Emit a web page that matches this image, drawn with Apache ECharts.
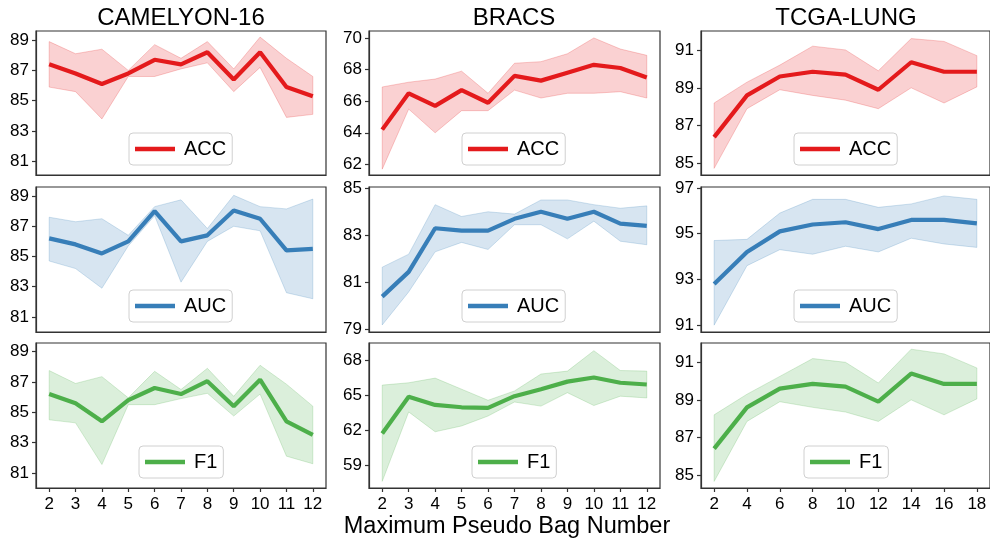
<!DOCTYPE html>
<html><head><meta charset="utf-8">
<script src="https://cdn.jsdelivr.net/npm/echarts@6/dist/echarts.min.js"></script>
<style>html,body{margin:0;padding:0;background:#fff}#c{width:990px;height:540px}</style>
</head><body><div id="c"></div>
<script>
// ---------- data ----------
const datasetNames = ['CAMELYON-16', 'BRACS', 'TCGA-LUNG'];
const metricNames = ['ACC', 'AUC', 'F1'];
const xAxisTitle = 'Maximum Pseudo Bag Number';

const xCamelyon = [2, 3, 4, 5, 6, 7, 8, 9, 10, 11, 12];
const xBracs = [2, 3, 4, 5, 6, 7, 8, 9, 10, 11, 12];
const xTcga = [2, 4, 6, 8, 10, 12, 14, 16, 18];

const xTicksCamelyon = [2, 3, 4, 5, 6, 7, 8, 9, 10, 11, 12];
const xTicksBracs = [2, 3, 4, 5, 6, 7, 8, 9, 10, 11, 12];
const xTicksTcga = [2, 4, 6, 8, 10, 12, 14, 16, 18];

const yTicksCamAcc = [81, 83, 85, 87, 89];
const yTicksCamAuc = [81, 83, 85, 87, 89];
const yTicksCamF1 = [81, 83, 85, 87, 89];
const yTicksBracsAcc = [62, 64, 66, 68, 70];
const yTicksBracsAuc = [79, 81, 83, 85];
const yTicksBracsF1 = [59, 62, 65, 68];
const yTicksTcgaAcc = [85, 87, 89, 91];
const yTicksTcgaAuc = [91, 93, 95, 97];
const yTicksTcgaF1 = [85, 87, 89, 91];

const camAccMean  = [87.4, 86.8, 86.1, 86.8, 87.7, 87.4, 88.2, 86.4, 88.2, 85.9, 85.3];
const camAccUpper = [88.9, 88.1, 88.4, 87.0, 88.7, 87.8, 88.9, 87.1, 89.2, 87.8, 86.6];
const camAccLower = [85.9, 85.6, 83.8, 86.6, 86.6, 87.1, 87.5, 85.6, 87.2, 83.9, 84.1];

const camAucMean  = [86.2, 85.8, 85.2, 86.0, 88.0, 86.0, 86.4, 88.05, 87.5, 85.4, 85.5];
const camAucUpper = [87.6, 87.3, 87.5, 86.4, 88.3, 88.75, 86.85, 89.05, 88.3, 88.15, 88.8];
const camAucLower = [84.7, 84.2, 82.9, 85.7, 87.7, 83.3, 86.0, 87.0, 86.7, 82.6, 82.2];

const camF1Mean  = [86.2, 85.6, 84.4, 85.8, 86.6, 86.2, 87.05, 85.4, 87.15, 84.4, 83.5];
const camF1Upper = [87.75, 86.9, 87.35, 85.95, 87.7, 86.5, 87.9, 86.05, 88.1, 86.85, 85.4];
const camF1Lower = [84.5, 84.3, 81.55, 85.5, 85.5, 85.9, 86.25, 84.75, 86.2, 82.1, 81.6];

const bracsAccMean  = [64.2, 66.5, 65.7, 66.7, 65.9, 67.6, 67.3, 67.8, 68.3, 68.1, 67.5];
const bracsAccUpper = [66.9, 67.2, 67.4, 67.9, 66.5, 68.4, 68.5, 69.0, 70.0, 69.3, 68.9];
const bracsAccLower = [61.7, 65.5, 64.0, 65.4, 65.4, 66.7, 66.2, 66.5, 66.5, 66.6, 66.2];

const bracsAucMean  = [80.4, 81.45, 83.3, 83.2, 83.2, 83.7, 84.0, 83.7, 84.0, 83.5, 83.4];
const bracsAucUpper = [81.65, 82.2, 84.3, 83.8, 84.0, 83.9, 84.5, 84.5, 84.3, 84.15, 84.25];
const bracsAucLower = [79.2, 80.6, 82.3, 82.7, 82.4, 83.45, 83.45, 82.85, 83.6, 82.75, 82.6];

const bracsF1Mean  = [61.7, 64.85, 64.15, 63.95, 63.9, 64.9, 65.5, 66.15, 66.5, 66.05, 65.9];
const bracsF1Upper = [65.85, 66.05, 66.45, 65.5, 64.55, 65.35, 66.8, 67.05, 68.8, 67.1, 67.05];
const bracsF1Lower = [57.6, 63.55, 61.85, 62.35, 63.2, 64.4, 64.05, 65.2, 64.1, 64.9, 64.75];

const tcgaAccMean  = [86.4, 88.6, 89.6, 89.85, 89.7, 88.9, 90.35, 89.85, 89.85];
const tcgaAccUpper = [88.2, 89.3, 90.2, 91.2, 91.0, 89.9, 91.6, 91.45, 90.7];
const tcgaAccLower = [84.75, 87.9, 88.9, 88.6, 88.35, 87.9, 89.0, 88.2, 89.05];

const tcgaAucMean  = [92.8, 94.2, 95.1, 95.4, 95.5, 95.2, 95.6, 95.6, 95.45];
const tcgaAucUpper = [94.7, 94.75, 95.9, 96.5, 96.5, 96.15, 96.3, 96.65, 96.5];
const tcgaAucLower = [91.0, 93.6, 94.3, 94.1, 94.45, 94.2, 94.8, 94.55, 94.4];

const tcgaF1Mean  = [86.4, 88.6, 89.6, 89.85, 89.7, 88.9, 90.4, 89.85, 89.85];
const tcgaF1Upper = [88.2, 89.3, 90.25, 91.2, 91.0, 89.9, 91.7, 91.45, 90.7];
const tcgaF1Lower = [84.65, 87.85, 88.9, 88.6, 88.35, 87.85, 89.0, 88.2, 89.05];

// ---------- layout / style ----------
const FONT = '"Liberation Sans", Arial, Helvetica, sans-serif';
const metricColors = { ACC: '#e41a1c', AUC: '#377eb8', F1: '#4daf4a' };
const cols = [{ left: 36, width: 290 }, { left: 369, width: 291 }, { left: 701, width: 292 }];
const rows = [{ top: 31, height: 144 }, { top: 187, height: 145 }, { top: 343, height: 145 }];

const panels = [
  { r: 0, c: 0, m: 'ACC', x: xCamelyon, xt: xTicksCamelyon, xr: [1.5, 12.5], yr: [80.1, 89.6], yt: yTicksCamAcc, mean: camAccMean, up: camAccUpper, lo: camAccLower },
  { r: 0, c: 1, m: 'ACC', x: xBracs, xt: xTicksBracs, xr: [1.5, 12.5], yr: [61.33, 70.44], yt: yTicksBracsAcc, mean: bracsAccMean, up: bracsAccUpper, lo: bracsAccLower },
  { r: 0, c: 2, m: 'ACC', x: xTcga, xt: xTicksTcga, xr: [1.2, 18.8], yr: [84.4, 92.0], yt: yTicksTcgaAcc, mean: tcgaAccMean, up: tcgaAccUpper, lo: tcgaAccLower },
  { r: 1, c: 0, m: 'AUC', x: xCamelyon, xt: xTicksCamelyon, xr: [1.5, 12.5], yr: [80.0, 89.6], yt: yTicksCamAuc, mean: camAucMean, up: camAucUpper, lo: camAucLower },
  { r: 1, c: 1, m: 'AUC', x: xBracs, xt: xTicksBracs, xr: [1.5, 12.5], yr: [78.9, 85.05], yt: yTicksBracsAuc, mean: bracsAucMean, up: bracsAucUpper, lo: bracsAucLower },
  { r: 1, c: 2, m: 'AUC', x: xTcga, xt: xTicksTcga, xr: [1.2, 18.8], yr: [90.7, 97.04], yt: yTicksTcgaAuc, mean: tcgaAucMean, up: tcgaAucUpper, lo: tcgaAucLower },
  { r: 2, c: 0, m: 'F1', x: xCamelyon, xt: xTicksCamelyon, xr: [1.5, 12.5], yr: [80.0, 89.57], yt: yTicksCamF1, mean: camF1Mean, up: camF1Upper, lo: camF1Lower },
  { r: 2, c: 1, m: 'F1', x: xBracs, xt: xTicksBracs, xr: [1.5, 12.5], yr: [57.03, 69.46], yt: yTicksBracsF1, mean: bracsF1Mean, up: bracsF1Upper, lo: bracsF1Lower },
  { r: 2, c: 2, m: 'F1', x: xTcga, xt: xTicksTcga, xr: [1.2, 18.8], yr: [84.3, 92.03], yt: yTicksTcgaF1, mean: tcgaF1Mean, up: tcgaF1Upper, lo: tcgaF1Lower }
];

const measureCtx = document.createElement('canvas').getContext('2d');
function textWidth(t, size) { measureCtx.font = size + 'px ' + FONT; return measureCtx.measureText(t).width; }

function rgba(hex, a) {
  const n = parseInt(hex.slice(1), 16);
  return 'rgba(' + ((n >> 16) & 255) + ',' + ((n >> 8) & 255) + ',' + (n & 255) + ',' + a + ')';
}

const grid = [], xAxis = [], yAxis = [], series = [], legend = [], graphic = [];
const SPINE = '#333333';

function bandRenderer(p, color) {
  return function (params, api) {
    if (params.dataIndex !== 0) return null;
    const upPts = p.x.map((v, k) => api.coord([v, p.up[k]]));
    const loPts = p.x.map((v, k) => api.coord([v, p.lo[k]]));
    const poly = upPts.concat(loPts.slice().reverse());
    return {
      type: 'polygon', shape: { points: poly },
      style: { fill: rgba(color, 0.2), stroke: rgba(color, 0.22), lineWidth: 1 }
    };
  };
}

panels.forEach((p, i) => {
  const col = cols[p.c], row = rows[p.r];
  const color = metricColors[p.m];
  grid.push({ left: col.left, top: row.top, width: col.width, height: row.height, show: true, borderColor: SPINE, borderWidth: 1.2, backgroundColor: 'transparent' });
  const bottomRow = p.r === 2;
  xAxis.push({
    type: 'value', gridIndex: i, min: p.xr[0], max: p.xr[1],
    axisLine: { show: true, lineStyle: { color: SPINE, width: 1.2 } },
    axisTick: { show: bottomRow, length: 4, inside: false, lineStyle: { color: SPINE, width: 1.2 }, customValues: p.xt },
    axisLabel: { show: bottomRow, fontSize: 17, fontFamily: FONT, color: '#000', margin: 8, customValues: p.xt },
    splitLine: { show: false }
  });
  yAxis.push({
    type: 'value', gridIndex: i, min: p.yr[0], max: p.yr[1],
    axisLine: { show: true, lineStyle: { color: SPINE, width: 1.2 } },
    axisTick: { show: true, length: 4, lineStyle: { color: SPINE, width: 1.2 }, customValues: p.yt },
    axisLabel: { show: true, fontSize: 17, fontFamily: FONT, color: '#000', margin: 7, customValues: p.yt },
    splitLine: { show: false }
  });
  series.push({
    type: 'custom', name: '_band' + i, xAxisIndex: i, yAxisIndex: i, silent: true, z: 1,
    data: p.x.map((v, k) => [v, p.lo[k], p.up[k]]),
    encode: { x: 0, y: [1, 2] },
    renderItem: bandRenderer(p, color),
    clip: true
  });
  series.push({
    type: 'line', name: p.m, xAxisIndex: i, yAxisIndex: i,
    data: p.x.map((v, k) => [v, p.mean[k]]), symbol: 'none',
    lineStyle: { color: color, width: 4.2 }, itemStyle: { color: color }, z: 3
  });
  const tw = textWidth(p.m, 20);
  const boxW = 6 + 40 + 9 + tw + 6;
  const cx = col.left + Math.min(col.width, 290) / 2;
  legend.push({
    data: [p.m], left: Math.round(cx - boxW / 2), top: row.top + row.height - 10 - 32,
    orient: 'horizontal', icon: 'rect', itemWidth: 40, itemHeight: 4.5, itemGap: 0,
    padding: [5, 6, 5, 6], backgroundColor: '#fff', borderColor: '#d0d0d0', borderWidth: 1, borderRadius: 4,
    textStyle: { fontSize: 20, fontFamily: FONT, color: '#000', lineHeight: 22, padding: [0, 0, 0, 4] },
    selectedMode: false, z: 10
  });
});

datasetNames.forEach((name, c) => {
  graphic.push({
    type: 'text', x: cols[c].left + Math.min(cols[c].width, 290) / 2, y: 18, silent: true,
    style: { text: name, fontSize: 24, fontFamily: FONT, fill: '#000', align: 'center', verticalAlign: 'middle' }
  });
});
graphic.push({
  type: 'text', x: 507, y: 527, silent: true,
  style: { text: xAxisTitle, fontSize: 23.5, fontFamily: FONT, fill: '#000', align: 'center', verticalAlign: 'middle' }
});

const chart = echarts.init(document.getElementById('c'), null, { renderer: 'canvas' });
chart.setOption({
  animation: false,
  backgroundColor: '#fff',
  grid, xAxis, yAxis, series, legend, graphic
});
</script></body></html>
